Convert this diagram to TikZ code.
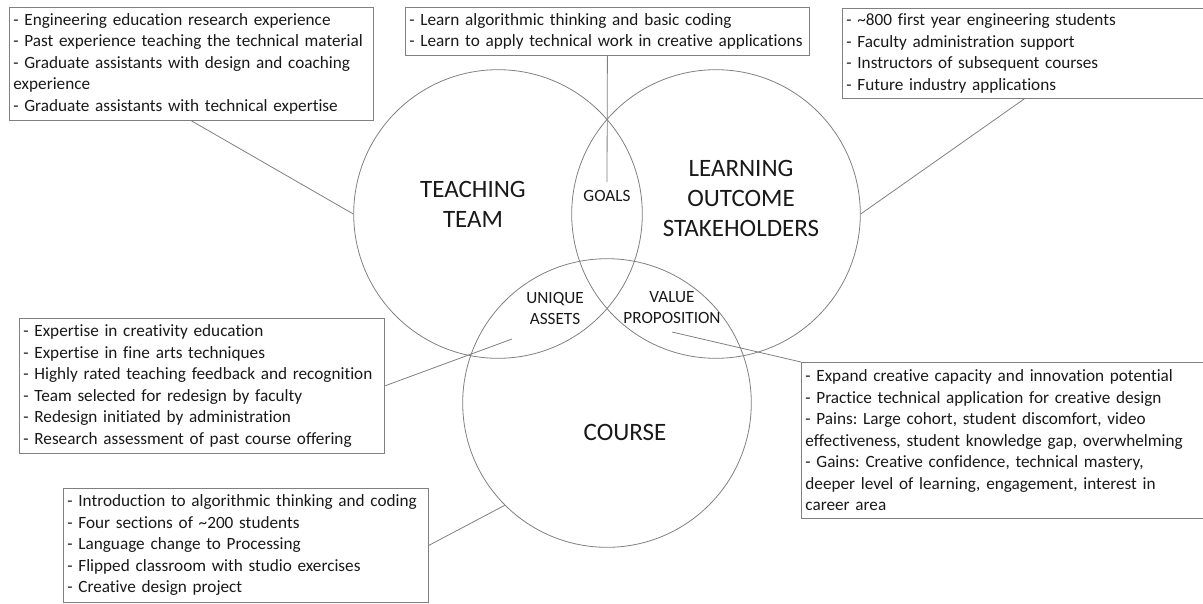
\documentclass[tikz,border=0pt]{standalone}
\usepackage{fontspec}
\setmainfont{Carlito}[Ligatures=NoCommon]
\usetikzlibrary{positioning}
\frenchspacing
\definecolor{linegray}{RGB}{128,128,128}
\definecolor{textdark}{RGB}{25,25,25}
\tikzset{
  venn/.style={circle, draw=linegray, line width=0.8pt, minimum size=288.6pt, inner sep=0pt},
  infobox/.style={draw=linegray, line width=0.8pt, anchor=north west, align=left,
    inner xsep=4pt, inner ysep=3pt, text=textdark, font=\fontsize{17.2}{21.5}\selectfont},
  biglabel/.style={align=center, inner sep=0pt, text=textdark, font=\fontsize{25}{30}\selectfont},
  smalllabel/.style={align=center, inner sep=0pt, text=textdark, font=\fontsize{17.2}{21}\selectfont},
  link/.style={draw=linegray, line width=0.8pt}
}
\begin{document}
\begin{tikzpicture}[x=1pt, y=-1pt]
  \useasboundingbox (0,0) rectangle (1203,603);
  \node[venn] (teach) at (498,214) {};
  \node[venn] (learn) at (716,214) {};
  \node[venn] (course) at (607,403) {};
  \node[biglabel] (teachlbl) at (473,204) {TEACHING\\TEAM};
  \node[biglabel] (learnlbl) at (741,198) {LEARNING\\OUTCOME\\STAKEHOLDERS};
  \node[biglabel] (courselbl) at (625,432) {COURSE};
  \node[smalllabel] (goalslbl) at (607,196) {GOALS};
  \node[smalllabel] (assetslbl) at (555,308) {UNIQUE\\ASSETS};
  \node[smalllabel] (valuelbl) at (672,308) {VALUE\\PROPOSITION};
  \node[infobox, text width=356pt, minimum height=113pt] (teachbox) at (9,7)
    {- Engineering education research experience\\
     - Past experience teaching the technical material\\
     - Graduate assistants with design and coaching\\
     experience\\
     - Graduate assistants with technical expertise};
  \node[infobox, text width=396pt, minimum height=48pt] (goalsbox) at (405,7)
    {- Learn algorithmic thinking and basic coding\\
     - Learn to apply technical work in creative applications};
  \node[infobox, text width=356pt, minimum height=90pt] (learnbox) at (842,8)
    {- \textasciitilde800 first year engineering students\\
     - Faculty administration support\\
     - Instructors of subsequent courses\\
     - Future industry applications};
  \node[infobox, text width=357pt, minimum height=135pt] (assetsbox) at (19,318)
    {- Expertise in creativity education\\
     - Expertise in fine arts techniques\\
     - Highly rated teaching feedback and recognition\\
     - Team selected for redesign by faculty\\
     - Redesign initiated by administration\\
     - Research assessment of past course offering};
  \node[infobox, text width=398pt, minimum height=156pt] (valuebox) at (801,362)
    {- Expand creative capacity and innovation potential\\
     - Practice technical application for creative design\\
     - Pains: Large cohort, student discomfort, video\\
     effectiveness, student knowledge gap, overwhelming\\
     - Gains: Creative confidence, technical mastery,\\
     deeper level of learning, engagement, interest in\\
     career area};
  \node[infobox, text width=357pt, minimum height=114pt] (coursebox) at (63,488)
    {- Introduction to algorithmic thinking and coding\\
     - Four sections of \textasciitilde200 students\\
     - Language change to Processing\\
     - Flipped classroom with studio exercises\\
     - Creative design project};
  \coordinate (goalsend) at (607,182);
  \coordinate (assetsend) at (512,339);
  \coordinate (valuestart) at (672,332);
  \draw[link] (teachbox.south) -- (teach.west)
    (goalsbox.south) -- (goalsend)
    (learnbox.south) -- (learn.east)
    (assetsbox.east) -- (assetsend)
    (valuestart) -- (valuebox.north west)
    (coursebox.east) -- (course.225);
\end{tikzpicture}
\end{document}
